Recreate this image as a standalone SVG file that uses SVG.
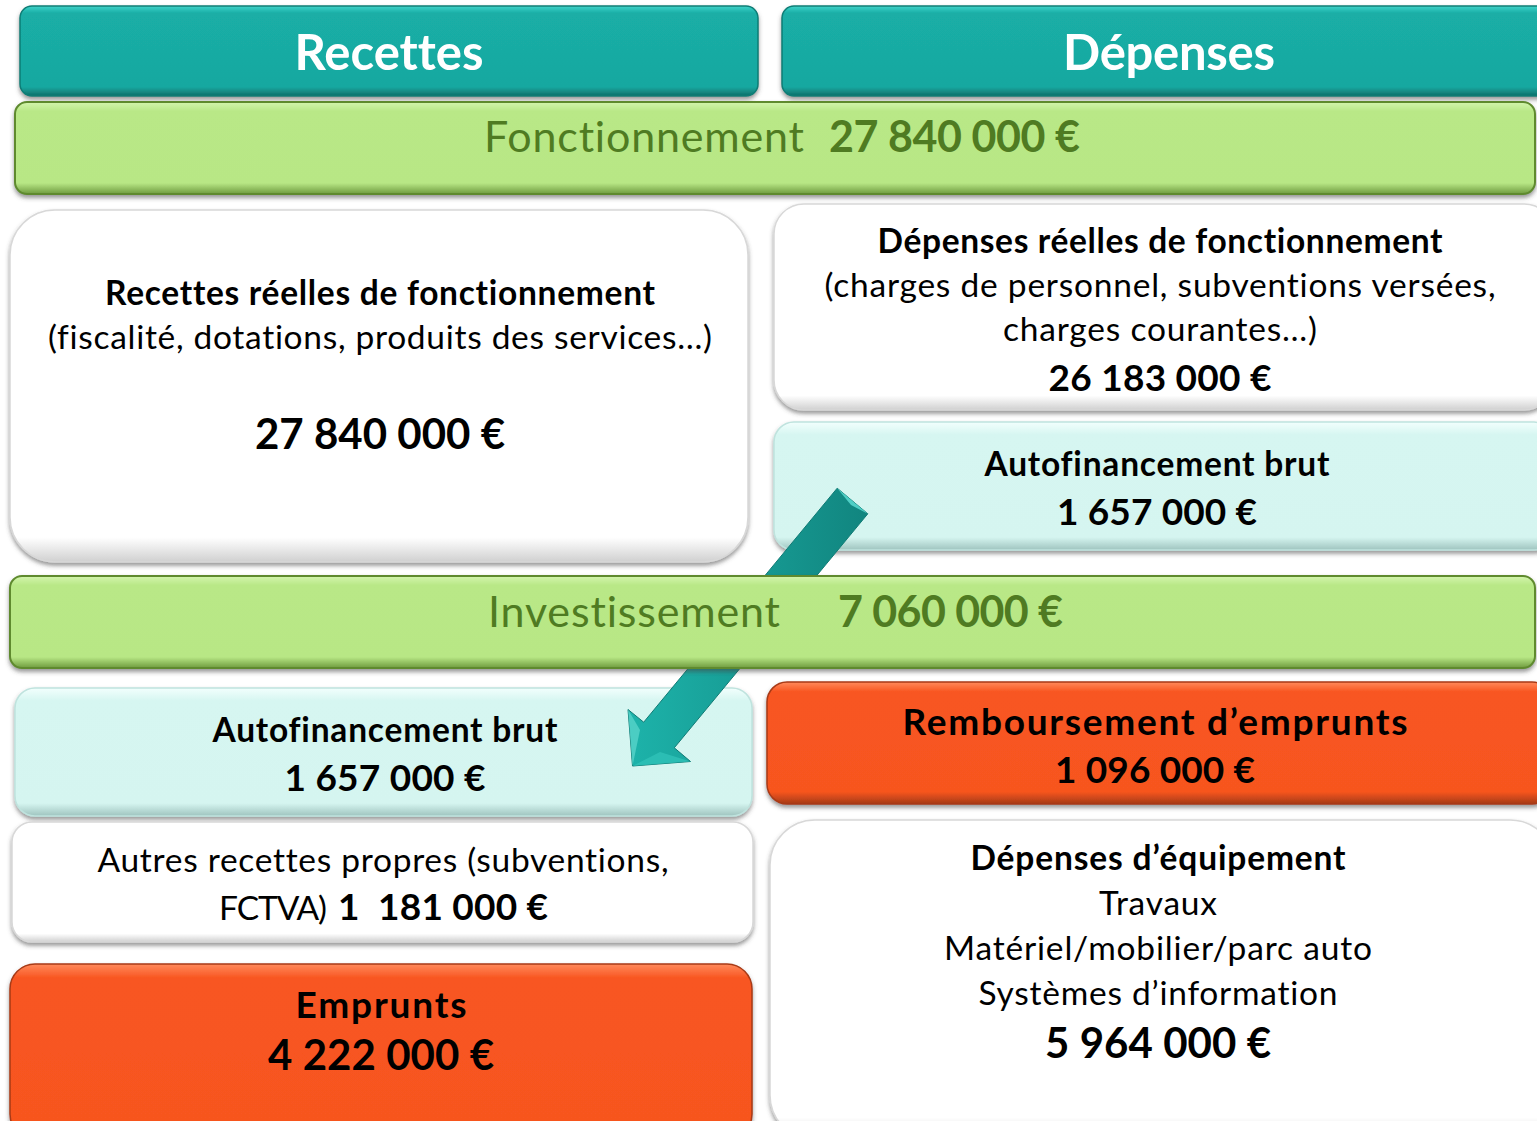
<svg xmlns="http://www.w3.org/2000/svg" width="1537" height="1121" viewBox="0 0 1537 1121">
<defs>
<filter id="sh" x="-5%" y="-10%" width="110%" height="125%">
<feDropShadow dx="0" dy="3" stdDeviation="2" flood-color="#444" flood-opacity="0.55"/>
</filter>
<linearGradient id="gTeal" x1="0" y1="0" x2="0" y2="1">
<stop offset="0" stop-color="#3FD3CA"/><stop offset="0.08" stop-color="#1AAEA6"/><stop offset="0.9" stop-color="#18A8A0"/><stop offset="1" stop-color="#0E6E68"/>
</linearGradient>
<linearGradient id="gGreen" x1="0" y1="0" x2="0" y2="1">
<stop offset="0" stop-color="#D4F5AE"/><stop offset="0.1" stop-color="#B9E887"/><stop offset="0.88" stop-color="#B8E785"/><stop offset="1" stop-color="#6F9B3F"/>
</linearGradient>
<linearGradient id="gOrange" x1="0" y1="0" x2="0" y2="1">
<stop offset="0" stop-color="#FF8A5C"/><stop offset="0.08" stop-color="#F85621"/><stop offset="0.9" stop-color="#F7551F"/><stop offset="1" stop-color="#A53A16"/>
</linearGradient>
<linearGradient id="gCyan" x1="0" y1="0" x2="0" y2="1">
<stop offset="0" stop-color="#F2FFFD"/><stop offset="0.1" stop-color="#D6F6F1"/><stop offset="0.9" stop-color="#D5F5F0"/><stop offset="1" stop-color="#9FC4BF"/>
</linearGradient>
<linearGradient id="gWhite" x1="0" y1="0" x2="0" y2="1">
<stop offset="0" stop-color="#FFFFFF"/><stop offset="0.93" stop-color="#FFFFFF"/><stop offset="1" stop-color="#D0D0D0"/>
</linearGradient>
<linearGradient id="gArrow" x1="0" y1="0" x2="1" y2="0" gradientUnits="objectBoundingBox">
<stop offset="0" stop-color="#1DB3AA"/><stop offset="1" stop-color="#11857F"/>
</linearGradient>
<style>
text{font-family:Lato,"Liberation Sans",sans-serif;text-anchor:middle;fill:#000;font-variant-ligatures:none}
.s{text-anchor:start}
.b{font-weight:bold}
.hd{fill:#fff;font-weight:bold;font-size:49px}
.band{fill:#4F7B22;font-size:43px}
.teal{fill:url(#gTeal);stroke:#0F7D76;stroke-width:1.5;filter:url(#sh)}
.green{fill:url(#gGreen);stroke:#5E8A2E;stroke-width:2;filter:url(#sh)}
.white{fill:url(#gWhite);stroke:#D8D8D8;stroke-width:1.5;filter:url(#sh)}
.cyan{fill:url(#gCyan);stroke:#BFE3DE;stroke-width:1.5;filter:url(#sh)}
.orange{fill:url(#gOrange);stroke:#A83A15;stroke-width:1.5;filter:url(#sh)}
.t32{font-size:33.5px}
.t36{font-size:37px}
.t40{font-size:42px}
</style>
</defs>

<g id="recettes-header">
<rect class="teal" x="20" y="6" width="738" height="90" rx="12"/>
<text class="hd" x="389" y="70" textLength="189">Recettes</text>
</g>
<g id="depenses-header">
<rect class="teal" x="782" y="6" width="775" height="90" rx="12"/>
<text class="hd" x="1169" y="70" textLength="212">Dépenses</text>
</g>
<g id="fonctionnement">
<rect class="green" x="15" y="102" width="1520" height="92" rx="12"/>
<text class="band s" x="484" y="152" textLength="320">Fonctionnement</text>
<text class="band b s" x="829" y="152" textLength="251">27 840 000 €</text>
</g>
<g id="recettes-reelles">
<rect class="white" x="10" y="210" width="738" height="352" rx="45"/>
<text class="b t32" x="380" y="305" textLength="550">Recettes réelles de fonctionnement</text>
<text class="t32" x="380" y="349" textLength="664">(fiscalité, dotations, produits des services…)</text>
<text class="b t40" x="380" y="449" textLength="250">27 840 000 €</text>
</g>
<g id="depenses-reelles">
<rect class="white" x="774" y="204" width="780" height="206" rx="30"/>
<text class="b t32" x="1160" y="253" textLength="565">Dépenses réelles de fonctionnement</text>
<text class="t32" x="1160" y="297" textLength="671">(charges de personnel, subventions versées,</text>
<text class="t32" x="1160" y="341" textLength="314">charges courantes…)</text>
<text class="b t36" x="1160" y="391" textLength="223">26 183 000 €</text>
</g>
<g id="autofinancement-fonct">
<rect class="cyan" x="774" y="422" width="780" height="128" rx="20"/>
<text class="b t32" x="1157" y="476" textLength="345">Autofinancement brut</text>
<text class="b t36" x="1157" y="525" textLength="200">1 657 000 €</text>
</g>
<g id="autofinancement-invest">
<rect class="cyan" x="15" y="688" width="737" height="128" rx="20"/>
<text class="b t32" x="385" y="742" textLength="345">Autofinancement brut</text>
<text class="b t36" x="385" y="791" textLength="201">1 657 000 €</text>
</g>

<g id="connectors">
<polygon points="837.2,488.2 867.8,513.8 674.3,747.8 690.5,761.5 632.5,766 628,709.5 643.7,722.2" fill="url(#gArrow)" stroke="#0F7A74" stroke-width="1"/>
<polygon points="837.2,488.2 867.8,513.8 851,505" fill="#5FE0D6" opacity="0.8"/>
<polygon points="628,709.5 632.5,766 640,730" fill="#5FD8CE" opacity="0.7"/>
<polygon points="632.5,766 690.5,761.5 660,752" fill="#2FC2B8" opacity="0.8"/>
</g>

<g id="investissement">
<rect class="green" x="10" y="576" width="1525" height="92" rx="12"/>
<text class="band s" x="488" y="627" textLength="292">Investissement</text>
<text class="band b s" x="838" y="627" textLength="225">7 060 000 €</text>
</g>
<g id="remboursement">
<rect class="orange" x="767" y="682" width="785" height="122" rx="20"/>
<text class="b t36" x="1155" y="735" textLength="505">Remboursement d’emprunts</text>
<text class="b t36" x="1155" y="783" textLength="200">1 096 000 €</text>
</g>
<g id="autres-recettes">
<rect class="white" x="12" y="822" width="741" height="120" rx="20"/>
<text class="t32" x="383" y="872" textLength="571">Autres recettes propres (subventions,</text>
<text class="t32 s" x="219" y="920" textLength="108">FCTVA)</text>
<text class="b t36 s" x="338" y="920" textLength="210" xml:space="preserve">1  181 000 €</text>
</g>
<g id="emprunts">
<rect class="orange" x="10" y="964" width="742" height="175" rx="25"/>
<text class="b t36" x="381" y="1018" textLength="171">Emprunts</text>
<text class="b t40" x="381" y="1070" textLength="226">4 222 000 €</text>
</g>
<g id="depenses-equipement">
<rect class="white" x="770" y="820" width="785" height="320" rx="45"/>
<text class="b t32" x="1158" y="870" textLength="375">Dépenses d’équipement</text>
<text class="t32" x="1158" y="915" textLength="118">Travaux</text>
<text class="t32" x="1158" y="960" textLength="428">Matériel/mobilier/parc auto</text>
<text class="t32" x="1158" y="1005" textLength="359">Systèmes d’information</text>
<text class="b t40" x="1158" y="1058" textLength="226">5 964 000 €</text>
</g>
</svg>
